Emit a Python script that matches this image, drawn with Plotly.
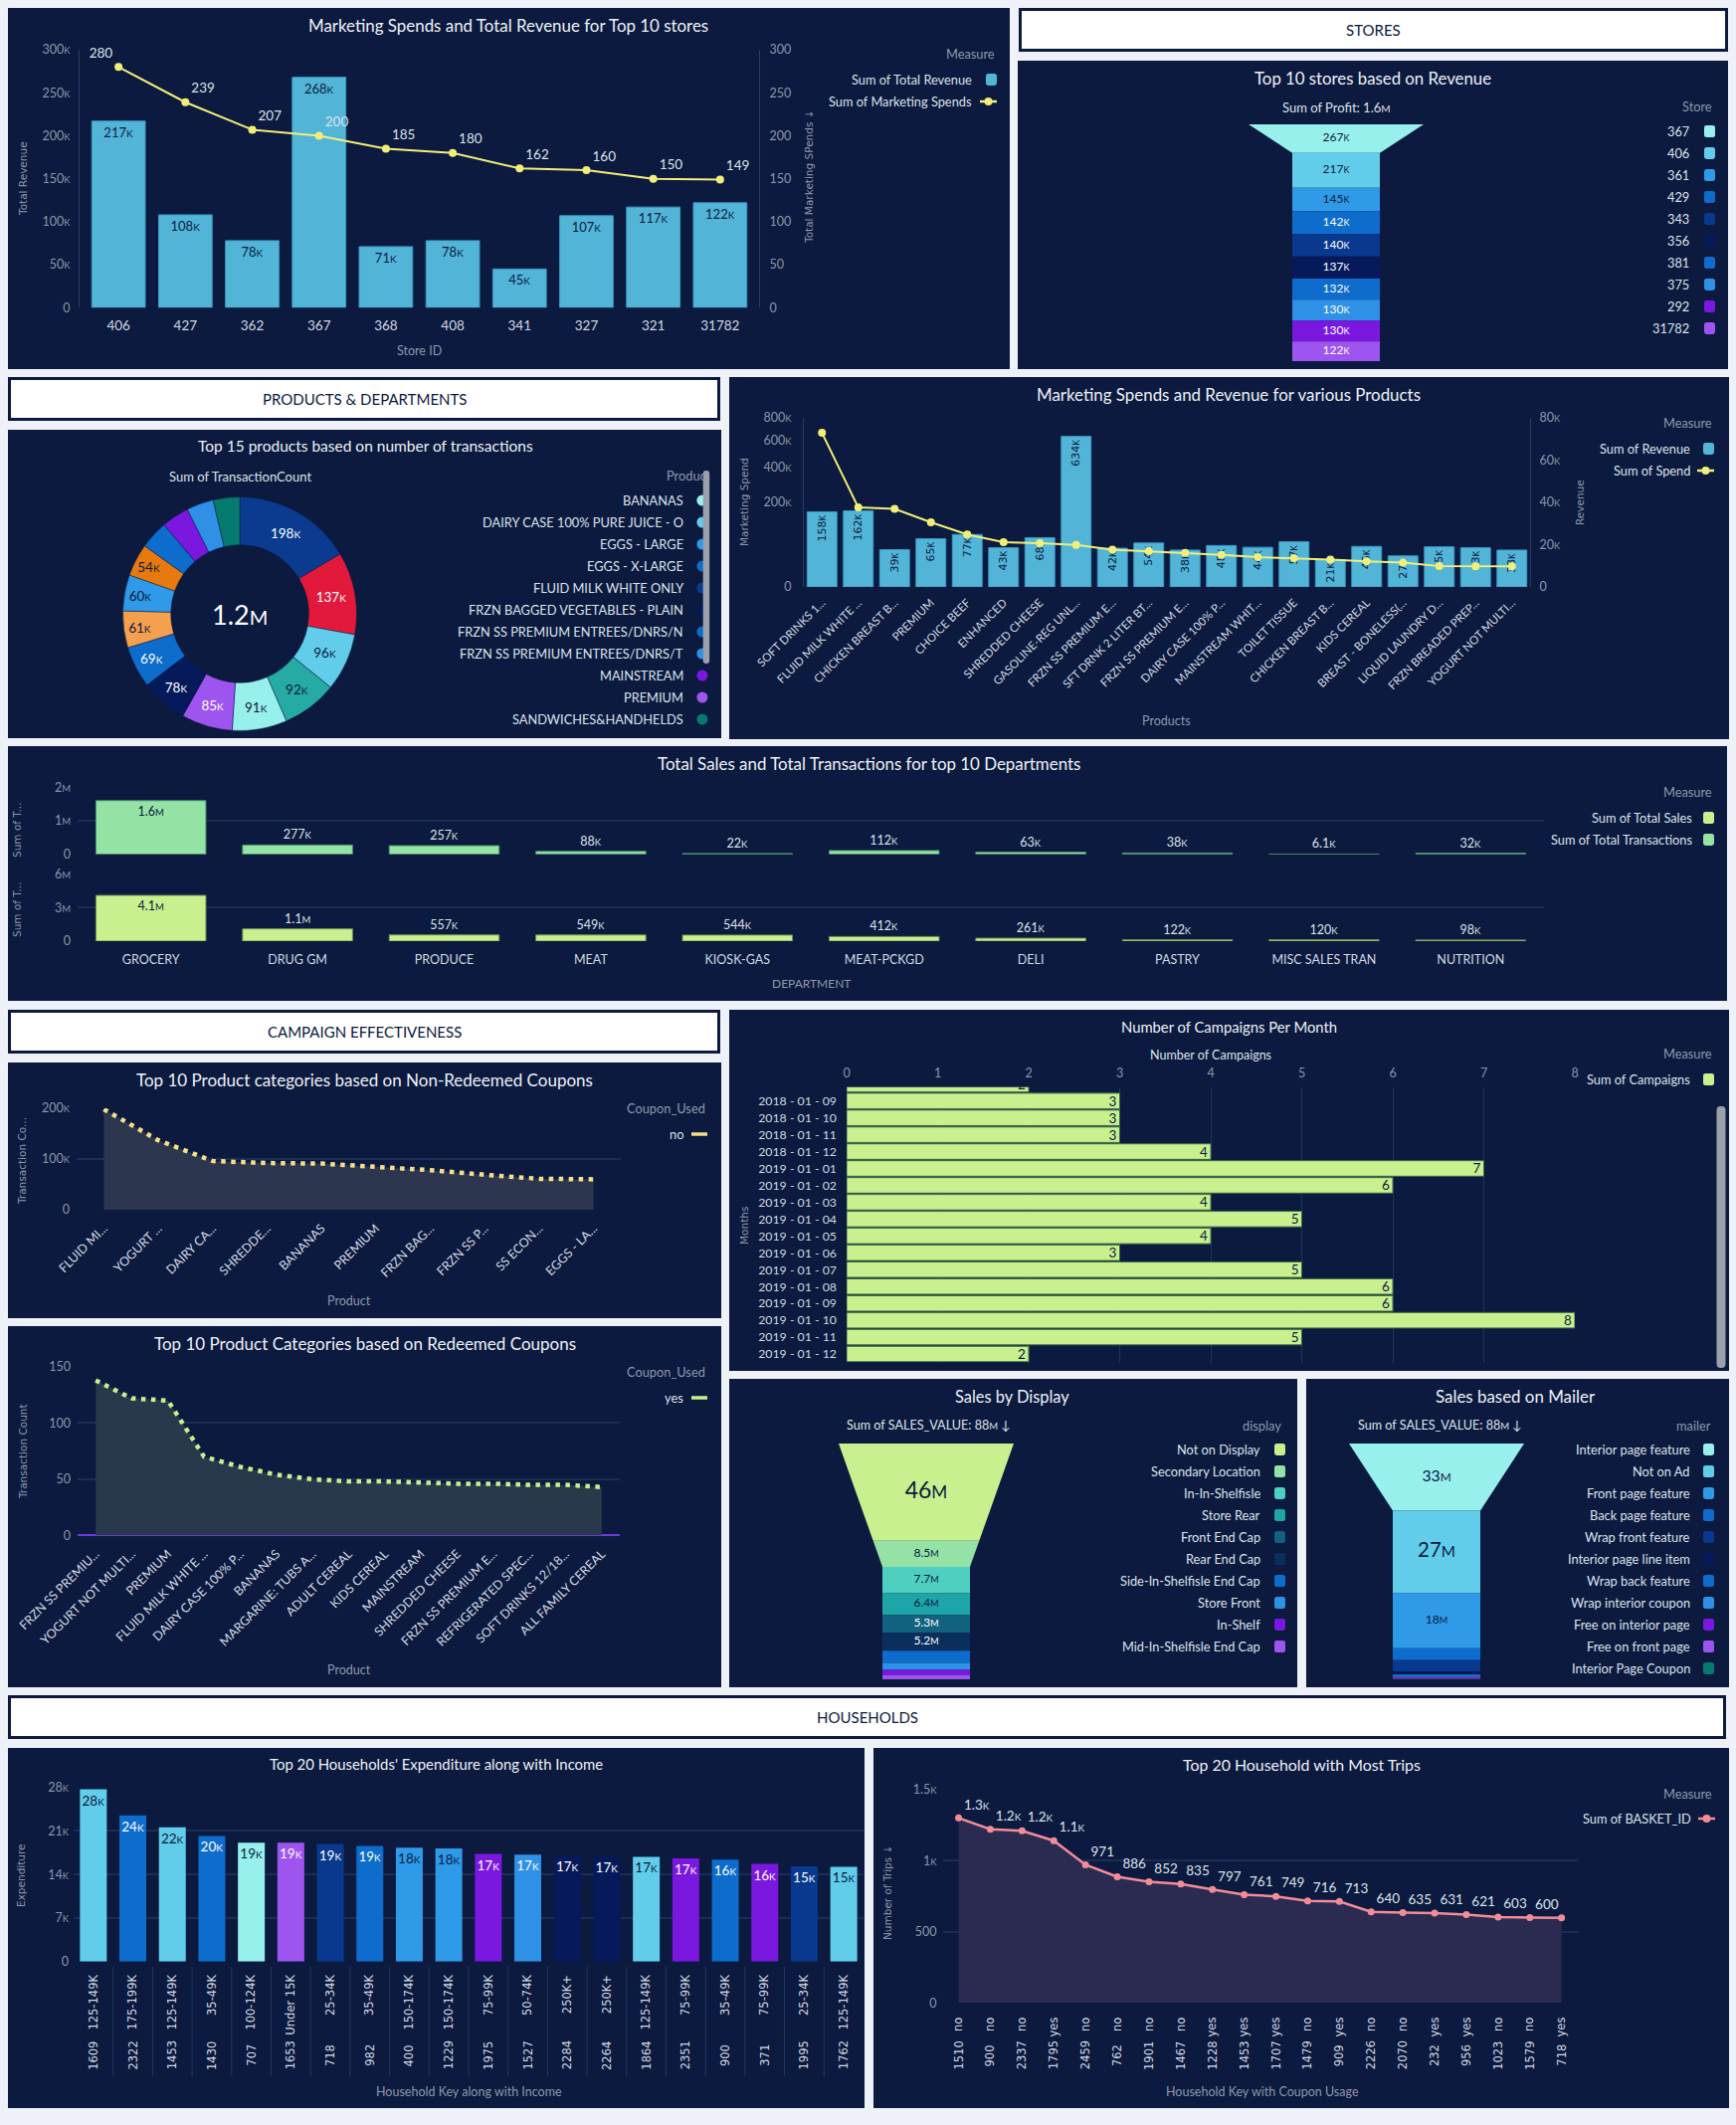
import math
import plotly.graph_objects as go

# ======================= DATA =======================
store_ids = ["406", "427", "362", "367", "368", "408", "341", "327", "321", "31782"]
store_total_revenue = [217000, 108000, 78000, 268000, 71000, 78000, 45000, 107000, 117000, 122000]
store_marketing_spends = [280, 239, 207, 200, 185, 180, 162, 160, 150, 149]

profit_stores = ["367", "406", "361", "429", "343", "356", "381", "375", "292", "31782"]
profit_values = [267000, 217000, 145000, 142000, 140000, 137000, 132000, 130000, 130000, 122000]

donut_products = ["FLUID MILK WHITE ONLY", "YOGURT NOT MULTI-PACKS", "DAIRY CASE 100% PURE JUICE - O",
                  "SHREDDED CHEESE", "BANANAS", "PREMIUM", "FRZN BAGGED VEGETABLES - PLAIN",
                  "FRZN SS PREMIUM ENTREES/DNRS/N", "SS ECONOMY ENTREES/DINNERS ALL", "EGGS - LARGE",
                  "SOFT DRINKS 12/18&15PK CAN CAR", "EGGS - X-LARGE", "MAINSTREAM",
                  "FRZN SS PREMIUM ENTREES/DNRS/T", "SANDWICHES&HANDHELDS"]
donut_counts = [198000, 137000, 96000, 92000, 91000, 85000, 78000, 69000, 61000, 60000, 54000,
                47000, 46000, 45000, 44000]

prod_names = ["SOFT DRINKS 1...", "FLUID MILK WHITE ...", "CHICKEN BREAST B...", "PREMIUM", "CHOICE BEEF",
              "ENHANCED", "SHREDDED CHEESE", "GASOLINE-REG UNL...", "FRZN SS PREMIUM E...",
              "SFT DRNK 2 LITER BT...", "FRZN SS PREMIUM E...", "DAIRY CASE 100% P...", "MAINSTREAM WHIT...",
              "TOILET TISSUE", "CHICKEN BREAST B...", "KIDS CEREAL", "BREAST - BONELESS(...",
              "LIQUID LAUNDRY D...", "FRZN BREADED PREP...", "YOGURT NOT MULTI..."]
prod_revenue = [158000, 162000, 39000, 65000, 77000, 43000, 68000, 634000, 42000, 54000, 38000, 48000,
                44000, 57000, 21000, 46000, 27000, 45000, 43000, 38000]
prod_spend = [72900, 37600, 36900, 30600, 24800, 21200, 20700, 19900, 17700, 16900, 16100, 15200,
              14100, 13600, 12900, 12100, 11500, 9900, 9800, 9800]

departments = ["GROCERY", "DRUG GM", "PRODUCE", "MEAT", "KIOSK-GAS", "MEAT-PCKGD", "DELI", "PASTRY",
               "MISC SALES TRAN", "NUTRITION"]
dept_transactions = [1600000, 277000, 257000, 88000, 22000, 112000, 63000, 38000, 6100, 32000]
dept_sales = [4100000, 1100000, 557000, 549000, 544000, 412000, 261000, 122000, 120000, 98000]

nonred_products = ["FLUID MI...", "YOGURT ...", "DAIRY CA...", "SHREDDE...", "BANANAS", "PREMIUM",
                   "FRZN BAG...", "FRZN SS P...", "SS ECON...", "EGGS - LA..."]
nonred_counts = [198000, 137000, 96000, 92000, 91000, 85000, 78000, 69000, 61000, 60000]

red_products = ["FRZN SS PREMIU...", "YOGURT NOT MULTI...", "PREMIUM", "FLUID MILK WHITE ...",
                "DAIRY CASE 100% P...", "BANANAS", "MARGARINE: TUBS A...", "ADULT CEREAL", "KIDS CEREAL",
                "MAINSTREAM", "SHREDDED CHEESE", "FRZN SS PREMIUM E...", "REFRIGERATED SPEC...",
                "SOFT DRINKS 12/18...", "ALL FAMILY CEREAL"]
red_counts = [138, 122, 120, 70, 61, 54, 50, 48, 48, 47, 46, 46, 45, 45, 43]

months = ["2018 - 01 - 08", "2018 - 01 - 09", "2018 - 01 - 10", "2018 - 01 - 11", "2018 - 01 - 12",
          "2019 - 01 - 01", "2019 - 01 - 02", "2019 - 01 - 03", "2019 - 01 - 04", "2019 - 01 - 05",
          "2019 - 01 - 06", "2019 - 01 - 07", "2019 - 01 - 08", "2019 - 01 - 09", "2019 - 01 - 10",
          "2019 - 01 - 11", "2019 - 01 - 12"]
campaigns = [2, 3, 3, 3, 4, 7, 6, 4, 5, 4, 3, 5, 6, 6, 8, 5, 2]

display_types = ["Not on Display", "Secondary Location", "In-In-Shelfisle", "Store Rear", "Front End Cap",
                 "Rear End Cap", "Side-In-Shelfisle End Cap", "Store Front", "In-Shelf",
                 "Mid-In-Shelfisle End Cap"]
display_sales = [46e6, 8.5e6, 7.7e6, 6.4e6, 5.3e6, 5.2e6, 3.6e6, 2.1e6, 1.5e6, 1.25e6]

mailer_types = ["Interior page feature", "Not on Ad", "Front page feature", "Back page feature",
                "Wrap front feature", "Interior page line item", "Wrap back feature", "Wrap interior coupon",
                "Free on interior page", "Free on front page", "Interior Page Coupon"]
mailer_sales = [33e6, 27e6, 18e6, 3.9e6, 3.7e6, 1.0e6, 0.5e6, 0.4e6, 0.3e6, 0.25e6, 0.15e6]

hh_keys = ["1609", "2322", "1453", "1430", "707", "1653", "718", "982", "400", "1229", "1975", "1527",
           "2284", "2264", "1864", "2351", "900", "371", "1995", "1762"]
hh_income = ["125-149K", "175-199K", "125-149K", "35-49K", "100-124K", "Under 15K", "25-34K", "35-49K",
             "150-174K", "150-174K", "75-99K", "50-74K", "250K+", "250K+", "125-149K", "75-99K", "35-49K",
             "75-99K", "25-34K", "125-149K"]
hh_expenditure = [27700, 23500, 21600, 20200, 19100, 19100, 18900, 18600, 18300, 18200, 17300, 17200,
                  17000, 16850, 16850, 16600, 16400, 15700, 15300, 15250]

trip_keys = ["1510", "900", "2337", "1795", "2459", "762", "1901", "1467", "1228", "1453", "1707", "1479",
             "909", "2226", "2070", "232", "956", "1023", "1579", "718"]
trip_coupon = ["no", "no", "no", "yes", "no", "no", "no", "no", "yes", "yes", "yes", "no", "yes", "no",
               "no", "yes", "yes", "no", "no", "yes"]
trip_counts = [1300, 1220, 1210, 1140, 971, 886, 852, 835, 797, 761, 749, 716, 713, 640, 635, 631, 621,
               603, 600, 598]

# ======================= STYLE =======================
W, H = 1745, 2136
PAGE = "#eef2f8"
PANEL = "#0b1a3e"
DARK = "#0b1a3e"
AXLINE = "#2b3b61"
GRID = "#1d2c53"
TICK_C = "#8d96ab"
CAT_C = "#d3d8e2"
TITLE_C = "#eef1f6"
AXT_C = "#8f98ad"
LEG_T = "#8f98ad"
LEG_C = "#dde2ea"
FONT = "Lato"
WIDE = "DejaVu Sans"
YELLOW = "#f3ee7a"
BAR_BLUE = "#52b5d8"
LIME = "#c9f08f"
MINT = "#94e3a5"
PINK = "#f28d98"
DOT_Y = "#f6df8a"
LEG_SIZE = 12.8
TICK_SIZE = 12.5

PAL = {"aqua": "#97f0ec", "sky": "#62cdea", "blue": "#2e9ae8", "blue2": "#0d6ccc", "navy": "#08398f",
       "dnavy": "#06195a", "blue3": "#2e91e6", "violet": "#7a18e0", "lviolet": "#9e55f0", "teal": "#057a6e"}
store_colors = [PAL[k] for k in ["aqua", "sky", "blue", "blue2", "navy", "dnavy", "blue2", "blue3",
                                 "violet", "lviolet"]]
donut_color_map = {
    "FLUID MILK WHITE ONLY": "#0a3b8e", "YOGURT NOT MULTI-PACKS": "#e3193b",
    "DAIRY CASE 100% PURE JUICE - O": PAL["sky"], "SHREDDED CHEESE": "#26aba4", "BANANAS": PAL["aqua"],
    "PREMIUM": PAL["lviolet"], "FRZN BAGGED VEGETABLES - PLAIN": PAL["dnavy"],
    "FRZN SS PREMIUM ENTREES/DNRS/N": PAL["blue2"], "SS ECONOMY ENTREES/DINNERS ALL": "#f5a04f",
    "EGGS - LARGE": PAL["blue"], "SOFT DRINKS 12/18&15PK CAN CAR": "#e8790f", "EGGS - X-LARGE": PAL["blue2"],
    "MAINSTREAM": PAL["violet"], "FRZN SS PREMIUM ENTREES/DNRS/T": PAL["blue3"],
    "SANDWICHES&HANDHELDS": PAL["teal"]}
display_colors = ["#c9f08f", "#94e2a6", "#4ecfbf", "#1ea5a8", "#11617f", "#0b2f5d", PAL["blue2"],
                  PAL["blue3"], PAL["violet"], PAL["lviolet"]]
mailer_colors = [PAL["aqua"], PAL["sky"], PAL["blue"], PAL["blue2"], PAL["navy"], PAL["dnavy"],
                 PAL["blue2"], PAL["blue3"], PAL["violet"], PAL["lviolet"], PAL["teal"]]
income_color_map = {"125-149K": PAL["sky"], "175-199K": PAL["blue2"], "35-49K": PAL["blue2"],
                    "100-124K": PAL["aqua"], "Under 15K": PAL["lviolet"], "25-34K": PAL["navy"],
                    "150-174K": PAL["blue"], "75-99K": PAL["violet"], "50-74K": PAL["blue3"],
                    "250K+": PAL["dnavy"]}


def X(px):
    return px / W


def Y(py):
    return 1 - py / H


def dx(a, b):
    return [X(a), X(b)]


def dy(top, bottom):
    return [Y(bottom), Y(top)]


def abbr(v, usize=None):
    for div, u in ((1e6, "M"), (1e3, "K")):
        if v >= div:
            q = v / div
            s = f"{q:.1f}" if q < 10 else f"{q:.0f}"
            if s.endswith(".0"):
                s = s[:-2]
            if usize:
                return f"{s}<span style='font-size:{usize}px'>{u}</span>"
            return s + u
    return f"{v:g}"


def lum(c):
    vals = []
    for i in (1, 3, 5):
        x = int(c[i:i + 2], 16) / 255
        vals.append(x / 12.92 if x <= 0.03928 else ((x + 0.055) / 1.055) ** 2.4)
    return 0.2126 * vals[0] + 0.7152 * vals[1] + 0.0722 * vals[2]


def txt_on(c):
    return DARK if lum(c) > 0.28 else "#ffffff"


fig = go.Figure()
shapes = []
annotations = []


def ann(text, x, y, size=12, color=LEG_C, family=FONT, xanchor="center", yanchor="middle", angle=0,
        xref="paper"):
    annotations.append(dict(text=text, x=(X(x) if xref == "paper" else x), y=Y(y), xref=xref, yref="paper",
                            showarrow=False, font=dict(size=size, color=color, family=family),
                            xanchor=xanchor, yanchor=yanchor, textangle=angle))


def P(x, y):
    return f"{X(x):.6f},{Y(y):.6f}"


def rrect(x0, y0, x1, y1, r, color, layer="above", line=None):
    path = (f"M {P(x0 + r, y0)} L {P(x1 - r, y0)} Q {P(x1, y0)} {P(x1, y0 + r)} L {P(x1, y1 - r)} "
            f"Q {P(x1, y1)} {P(x1 - r, y1)} L {P(x0 + r, y1)} Q {P(x0, y1)} {P(x0, y1 - r)} "
            f"L {P(x0, y0 + r)} Q {P(x0, y0)} {P(x0 + r, y0)} Z")
    shapes.append(dict(type="path", path=path, xref="paper", yref="paper", fillcolor=color,
                       line=line or dict(width=0), layer=layer))


def circle(cx, cy, r, color):
    shapes.append(dict(type="circle", xref="paper", yref="paper", x0=X(cx - r), x1=X(cx + r),
                       y0=Y(cy + r), y1=Y(cy - r), fillcolor=color, line=dict(width=0), layer="above"))


def hline(x0, x1, y, color, width):
    shapes.append(dict(type="line", xref="paper", yref="paper", x0=X(x0), x1=X(x1), y0=Y(y), y1=Y(y),
                       line=dict(color=color, width=width), layer="above"))


def swatch(kind, color, right, y):
    if kind == "square":
        rrect(right - 11, y - 6, right, y + 6, 2.5, color)
    elif kind == "circle":
        circle(right - 5.5, y, 5.5, color)
    elif kind == "line":
        hline(right - 16, right, y, color, 3.5)
    elif kind == "linedot":
        hline(right - 17, right, y, color, 2.5)
        circle(right - 8.5, y, 4, color)


def legend(title, title_right, title_y, items, text_right, sw_right, y0, step=22):
    if title:
        ann(title, title_right, title_y, size=LEG_SIZE, color=LEG_T, xanchor="right")
    for i, (label, color, kind) in enumerate(items):
        y = y0 + i * step
        ann(label, text_right, y, size=LEG_SIZE, color=LEG_C, xanchor="right")
        swatch(kind, color, sw_right, y)


def base_ax(**kw):
    d = dict(showgrid=False, zeroline=False, showline=False, ticks="", fixedrange=True, automargin=False,
             tickfont=dict(family=FONT, size=TICK_SIZE, color=TICK_C))
    d.update(kw)
    return d


def hidden_ax(**kw):
    d = dict(visible=False, fixedrange=True, automargin=False)
    d.update(kw)
    return d


axes = {}

# ---------------- panels & headers ----------------
panels = [(8, 8, 1015, 371), (1023, 61, 1737, 371), (8, 432, 725, 742), (733, 379, 1738, 743),
          (8, 750, 1736, 1006), (8, 1068, 725, 1325), (8, 1333, 725, 1696), (733, 1015, 1738, 1378),
          (733, 1386, 1304, 1696), (1313, 1386, 1738, 1696), (8, 1757, 869, 2119), (878, 1757, 1738, 2119)]
for (a, b, c, d) in panels:
    shapes.append(dict(type="rect", xref="paper", yref="paper", x0=X(a), x1=X(c), y0=Y(d), y1=Y(b),
                       fillcolor=PANEL, line=dict(width=0), layer="below"))
headers = [((1024, 8, 1737, 52), "STORES"), ((8, 379, 724, 423), "PRODUCTS & DEPARTMENTS"),
           ((8, 1015, 724, 1059), "CAMPAIGN EFFECTIVENESS"), ((8, 1704, 1735, 1748), "HOUSEHOLDS")]
for (a, b, c, d), t in headers:
    shapes.append(dict(type="rect", xref="paper", yref="paper", x0=X(a + 1.5), x1=X(c - 1.5),
                       y0=Y(d - 1.5), y1=Y(b + 1.5), fillcolor="#ffffff",
                       line=dict(width=3, color=DARK), layer="below"))
    ann(t, (a + c) / 2, (b + d) / 2, size=15, color=DARK)

# ---------------- A: stores revenue + marketing ----------------
fig.add_trace(go.Bar(x=store_ids, y=store_total_revenue, xaxis="x", yaxis="y", width=0.8,
                     marker=dict(color=BAR_BLUE, line=dict(color="#3b9bc3", width=1)),
                     text=[abbr(v, 10) for v in store_total_revenue], textposition="inside",
                     insidetextanchor="end", textangle=0, constraintext="none",
                     textfont=dict(family=FONT, size=13, color=DARK), hoverinfo="skip"))
fig.add_trace(go.Scatter(x=store_ids, y=store_marketing_spends, xaxis="x", yaxis="y2",
                         mode="lines+markers+text", line=dict(color=YELLOW, width=2),
                         marker=dict(size=8, color=YELLOW),
                         text=[str(v) for v in store_marketing_spends],
                         textposition=["top left"] + ["top right"] * 9,
                         textfont=dict(family=FONT, size=13.5, color=LEG_C), cliponaxis=False,
                         hoverinfo="skip"))
rev_ticks = [0, 50000, 100000, 150000, 200000, 250000, 300000]
axes["xaxis"] = base_ax(domain=dx(80, 763), anchor="y", type="category",
                        tickfont=dict(family=FONT, size=13.5, color=CAT_C), ticklabelstandoff=8)
axes["yaxis"] = base_ax(domain=dy(50, 309.3), anchor="x", range=[0, 300000], tickmode="array",
                        tickvals=rev_ticks, ticktext=[abbr(v, 9.5) for v in rev_ticks], showline=True,
                        linecolor=AXLINE, ticklabelstandoff=6)
spend_ticks = [0, 50, 100, 150, 200, 250, 300]
axes["yaxis2"] = base_ax(overlaying="y", side="right", anchor="x", range=[0, 300], tickmode="array",
                         tickvals=spend_ticks, ticktext=[str(v) for v in spend_ticks], showline=True,
                         linecolor=AXLINE, ticklabelstandoff=7)
ann("Marketing Spends and Total Revenue for Top 10 stores", 511, 25, size=16.9, color=TITLE_C)
ann("Total Revenue", 23, 180, size=10.5, color=AXT_C, family=WIDE, angle=-90)
ann("Total Marketing SPends ↓", 813, 178, size=10.5, color=AXT_C, family=WIDE, angle=-90)
ann("Store ID", 421, 353, size=12.5, color=AXT_C)
legend("Measure", 1002, 54, [("Sum of Total Revenue", BAR_BLUE, "square"),
                             ("Sum of Marketing Spends", YELLOW, "linedot")], 979, 1002, 80)


# ---------------- funnel helper ----------------
def funnel(values, colors, n_top, xa, ya, px_h):
    total = sum(values)
    vt = sum(values[:n_top])
    ht = vt / 1.5
    hu = ht + total - vt

    def depth(a):
        if a <= vt:
            return ht * (2 - math.sqrt(max(0.0, 4 - 2 * a / ht)))
        return ht + (a - vt)

    def hw(y):
        return 1 - y / (2 * ht) if y < ht else 0.5

    cum = 0
    mids, texts, sizes, tcols = [], [], [], []
    for v, c in zip(values, colors):
        y0, y1 = depth(cum), depth(cum + v)
        cum += v
        fig.add_trace(go.Scatter(x=[-hw(y0), hw(y0), hw(y1), -hw(y1), -hw(y0)], y=[y0, y0, y1, y1, y0],
                                 xaxis=xa, yaxis=ya, mode="lines", fill="toself", fillcolor=c,
                                 line=dict(width=0), hoverinfo="skip"))
        hpx = (y1 - y0) * px_h / hu
        size = min(23, 12 + max(0, hpx - 55) * 0.3)
        mids.append((y0 + y1) / 2)
        texts.append(abbr(v, round(size * 0.75, 1)) if hpx >= 15 else "")
        sizes.append(size)
        tcols.append(txt_on(c))
    fig.add_trace(go.Scatter(x=[0] * len(values), y=mids, xaxis=xa, yaxis=ya, mode="text", text=texts,
                             textfont=dict(family=FONT, size=sizes, color=tcols), hoverinfo="skip"))
    return hu


# ---------------- B: stores funnel ----------------
hu_b = funnel(profit_values, store_colors, 1, "x3", "y3", 238)
axes["xaxis3"] = hidden_ax(domain=dx(1255, 1431), range=[-1, 1], anchor="y3")
axes["yaxis3"] = hidden_ax(domain=dy(125, 363), range=[hu_b, 0], anchor="x3")
ann("Top 10 stores based on Revenue", 1380, 78, size=16.8, color=TITLE_C)
ann("Sum of Profit: " + abbr(sum(profit_values), 10), 1343, 108, size=13, color=LEG_C)
legend("Store", 1723, 107, [(s, c, "square") for s, c in zip(profit_stores, store_colors)], 1700, 1724, 132)

# ---------------- C: donut ----------------
donut_colors = [donut_color_map[p] for p in donut_products]
fig.add_trace(go.Pie(labels=donut_products, values=donut_counts, hole=0.59, sort=False,
                     direction="clockwise", rotation=0,
                     marker=dict(colors=donut_colors, line=dict(color=PANEL, width=0.5)),
                     text=[abbr(v, 10) if v / sum(donut_counts) > 0.042 else "" for v in donut_counts],
                     textinfo="text", textposition="inside", insidetextorientation="horizontal",
                     textfont=dict(family=FONT, size=13.5, color=[txt_on(c) for c in donut_colors]),
                     domain=dict(x=dx(123.5, 358.5), y=dy(499.5, 734.5)), hoverinfo="skip",
                     showlegend=False))
ann(abbr(sum(donut_counts), 20), 241, 617, size=27, color="#ffffff")
ann("Top 15 products based on number of transactions", 367, 448, size=15.5, color=TITLE_C)
ann("Sum of TransactionCount", 241, 479, size=13, color=LEG_C)
ann("Produc", 668, 478, size=LEG_SIZE, color=LEG_T, xanchor="left")
legend(None, 0, 0, [(p, donut_color_map[p], "circle") for p in sorted(donut_products)[:11]],
       689, 711.4, 503)
rrect(706.7, 473, 713.2, 667, 3, "#9aa1ab")

# ---------------- D: products ----------------
px_ = list(range(len(prod_names)))
fig.add_trace(go.Bar(x=px_, y=[math.sqrt(v) for v in prod_revenue], xaxis="x4", yaxis="y4", width=0.82,
                     marker=dict(color=BAR_BLUE, line=dict(color="#3b9bc3", width=1)),
                     text=[abbr(v, 8.5) for v in prod_revenue], textposition="auto",
                     insidetextanchor="end", textangle=-90,
                     insidetextfont=dict(family=WIDE, size=11, color=DARK),
                     outsidetextfont=dict(family=WIDE, size=11, color=LEG_C),
                     cliponaxis=False, hoverinfo="skip"))
fig.add_trace(go.Scatter(x=px_, y=prod_spend, xaxis="x4", yaxis="y5", mode="lines+markers",
                         line=dict(color=YELLOW, width=2), marker=dict(size=8, color=YELLOW),
                         hoverinfo="skip"))
ms_ticks = [0, 200000, 400000, 600000, 800000]
rv_ticks = [0, 20000, 40000, 60000, 80000]
axes["xaxis4"] = base_ax(domain=dx(808, 1538), anchor="y4", range=[-0.5, len(prod_names) - 0.5],
                         tickmode="array", tickvals=px_, ticktext=prod_names, tickangle=-45,
                         tickfont=dict(family=FONT, size=11.5, color=CAT_C), ticklabelstandoff=6)
axes["yaxis4"] = base_ax(domain=dy(420, 590), anchor="x4", range=[0, math.sqrt(800000)], tickmode="array",
                         tickvals=[math.sqrt(v) for v in ms_ticks], ticktext=[abbr(v, 9.5) for v in ms_ticks],
                         showline=True, linecolor=AXLINE, ticklabelstandoff=9)
axes["yaxis5"] = base_ax(overlaying="y4", side="right", anchor="x4", range=[0, 80000], tickmode="array",
                         tickvals=rv_ticks, ticktext=[abbr(v, 9.5) for v in rv_ticks], showline=True,
                         linecolor=AXLINE, ticklabelstandoff=6)
ann("Marketing Spends and Revenue for various Products", 1235, 396, size=16.9, color=TITLE_C)
ann("Marketing Spend", 748, 505, size=10.5, color=AXT_C, family=WIDE, angle=-90)
ann("Revenue", 1588, 505, size=10.5, color=AXT_C, family=WIDE, angle=-90)
ann("Products", 1172, 724, size=12.5, color=AXT_C)
legend("Measure", 1723, 425, [("Sum of Revenue", BAR_BLUE, "square"), ("Sum of Spend", YELLOW, "linedot")],
       1701, 1723, 451)

# ---------------- E: departments ----------------
fig.add_trace(go.Bar(x=departments, y=dept_transactions, xaxis="x5", yaxis="y6", width=0.75,
                     marker=dict(color=MINT, line=dict(color="#4d8f6d", width=1)),
                     text=[abbr(v, 9.5) for v in dept_transactions], textposition="auto", textangle=0,
                     insidetextanchor="end", insidetextfont=dict(family=FONT, size=12.5, color=DARK),
                     outsidetextfont=dict(family=FONT, size=12.5, color=LEG_C), cliponaxis=False,
                     hoverinfo="skip"))
fig.add_trace(go.Bar(x=departments, y=dept_sales, xaxis="x6", yaxis="y7", width=0.75,
                     marker=dict(color=LIME, line=dict(color="#6f8f4f", width=1)),
                     text=[abbr(v, 9.5) for v in dept_sales], textposition="auto", textangle=0,
                     insidetextanchor="end", insidetextfont=dict(family=FONT, size=12.5, color=DARK),
                     outsidetextfont=dict(family=FONT, size=12.5, color=LEG_C), cliponaxis=False,
                     hoverinfo="skip"))
t_ticks = [0, 1000000, 2000000]
s_ticks = [0, 3000000, 6000000]
axes["xaxis5"] = base_ax(domain=dx(78, 1552), anchor="y6", type="category", showticklabels=False)
axes["yaxis6"] = base_ax(domain=dy(791.3, 858.7), anchor="x5", range=[0, 2000000], tickmode="array",
                         tickvals=t_ticks, ticktext=[abbr(v, 9.5) for v in t_ticks], showgrid=True,
                         gridcolor=GRID, gridwidth=2, ticklabelstandoff=6)
axes["xaxis6"] = base_ax(domain=dx(78, 1552), anchor="y7", type="category",
                         tickfont=dict(family=FONT, size=12.5, color=CAT_C), ticklabelstandoff=9)
axes["yaxis7"] = base_ax(domain=dy(878.7, 946), anchor="x6", range=[0, 6000000], tickmode="array",
                         tickvals=s_ticks, ticktext=[abbr(v, 9.5) for v in s_ticks], showgrid=True,
                         gridcolor=GRID, gridwidth=2, ticklabelstandoff=6)
ann("Total Sales and Total Transactions for top 10 Departments", 873, 767, size=16.9, color=TITLE_C)
ann("Sum of T...", 17, 834, size=10.5, color=AXT_C, family=WIDE, angle=-90)
ann("Sum of T...", 17, 914, size=10.5, color=AXT_C, family=WIDE, angle=-90)
ann("DEPARTMENT", 815, 988, size=12, color=AXT_C)
legend("Measure", 1723, 796, [("Sum of Total Sales", LIME, "square"),
                              ("Sum of Total Transactions", MINT, "square")], 1703, 1723, 822)

# ---------------- F: non-redeemed ----------------
fig.add_trace(go.Scatter(x=nonred_products, y=nonred_counts, xaxis="x7", yaxis="y8", mode="lines",
                         line=dict(color=DOT_Y, width=4.5, dash="4.5px,5.5px"), fill="tozeroy",
                         fillcolor="#2c374f", hoverinfo="skip"))
nr_ticks = [0, 100000, 200000]
axes["xaxis7"] = base_ax(domain=dx(77, 624), anchor="y8", type="category", tickangle=-45,
                         range=[-0.5, len(nonred_products) - 0.5],
                         tickfont=dict(family=FONT, size=12.5, color=CAT_C), ticklabelstandoff=8)
axes["yaxis8"] = base_ax(domain=dy(1114, 1216), anchor="x7", range=[0, 200000], tickmode="array",
                         tickvals=nr_ticks, ticktext=[abbr(v, 9.5) for v in nr_ticks], showgrid=True,
                         gridcolor=GRID, gridwidth=2, ticklabelstandoff=6)
ann("Top 10 Product categories based on Non-Redeemed Coupons", 366, 1085, size=17, color=TITLE_C)
ann("Transaction Co...", 22, 1167, size=10.5, color=AXT_C, family=WIDE, angle=-90)
ann("Product", 351, 1307, size=12.5, color=AXT_C)
legend("Coupon_Used", 711, 1114, [("no", DOT_Y, "line")], 689, 711, 1140)

# ---------------- G: redeemed ----------------
fig.add_trace(go.Scatter(x=red_products, y=red_counts, xaxis="x8", yaxis="y9", mode="lines",
                         line=dict(color=LIME, width=4.5, dash="4.5px,5.5px"), fill="tozeroy",
                         fillcolor="#27394b", hoverinfo="skip"))
r_ticks = [0, 50, 100, 150]
axes["xaxis8"] = base_ax(domain=dx(78, 623), anchor="y9", type="category", tickangle=-45,
                         range=[-0.5, len(red_products) - 0.5],
                         tickfont=dict(family=FONT, size=12.5, color=CAT_C), ticklabelstandoff=8)
axes["yaxis9"] = base_ax(domain=dy(1374, 1543.3), anchor="x8", range=[0, 150], tickmode="array",
                         tickvals=r_ticks, ticktext=[str(v) for v in r_ticks], showgrid=True,
                         gridcolor=GRID, gridwidth=2, zeroline=True, zerolinecolor="#6b3be0",
                         zerolinewidth=2, ticklabelstandoff=6)
ann("Top 10 Product Categories based on Redeemed Coupons", 367, 1350, size=17, color=TITLE_C)
ann("Transaction Count", 23, 1459, size=10.5, color=AXT_C, family=WIDE, angle=-90)
ann("Product", 351, 1678, size=12.5, color=AXT_C)
legend("Coupon_Used", 711, 1379, [("yes", LIME, "line")], 689, 711, 1405)

# ---------------- H: campaigns per month ----------------
fig.add_trace(go.Bar(x=campaigns, y=months, orientation="h", xaxis="x9", yaxis="y10", width=0.92,
                     marker=dict(color=LIME, line=dict(color="#3d6b45", width=1)),
                     text=[str(v) for v in campaigns], textposition="inside", insidetextanchor="end",
                     textangle=0, constraintext="none", textfont=dict(family=FONT, size=13.5, color=DARK),
                     hoverinfo="skip"))
axes["xaxis9"] = base_ax(domain=dx(851, 1583), anchor="y10", side="top", range=[0, 8], tickmode="linear",
                         tick0=0, dtick=1, showgrid=True, gridcolor="#23325a", ticklabelstandoff=6)
axes["yaxis10"] = base_ax(domain=dy(1092.7, 1369.5), anchor="x9", type="category", categoryorder="array",
                          categoryarray=months, range=[len(months) - 0.5, 0.176],
                          tickfont=dict(family=FONT, size=12.3, color=CAT_C), ticklabelstandoff=9)
ann("Number of Campaigns Per Month", 1235, 1032, size=14.8, color=TITLE_C)
ann("Number of Campaigns", 1217, 1060, size=12.5, color=LEG_C)
ann("Months", 748, 1232, size=10.5, color=AXT_C, family=WIDE, angle=-90)
legend("Measure", 1723, 1059, [("Sum of Campaigns", LIME, "square")], 1701, 1723, 1085)
rrect(1725.5, 1112, 1734.5, 1375, 4, "#9aa1ab")

# ---------------- I: display funnel ----------------
hu_i = funnel(display_sales, display_colors, 2, "x10", "y11", 237)
axes["xaxis10"] = hidden_ax(domain=dx(843, 1019), range=[-1, 1], anchor="y11")
axes["yaxis11"] = hidden_ax(domain=dy(1451, 1688), range=[hu_i, 0], anchor="x10")
ann("Sales by Display", 1017, 1403, size=16.4, color=TITLE_C)
ann("Sum of SALES_VALUE: " + abbr(sum(display_sales), 9.5) + " ↓", 934, 1433, size=12.6, color=LEG_C)
legend("display", 1290, 1433, [(t, c, "square") for t, c in zip(display_types, display_colors)],
       1269, 1292, 1457)

# ---------------- J: mailer funnel ----------------
hu_j = funnel(mailer_sales, mailer_colors, 1, "x11", "y12", 237)
axes["xaxis11"] = hidden_ax(domain=dx(1356, 1532), range=[-1, 1], anchor="y12")
axes["yaxis12"] = hidden_ax(domain=dy(1451, 1688), range=[hu_j, 0], anchor="x11")
ann("Sales based on Mailer", 1523, 1403, size=16.9, color=TITLE_C)
ann("Sum of SALES_VALUE: " + abbr(sum(mailer_sales), 9.5) + " ↓", 1447, 1433, size=12.6, color=LEG_C)
legend("mailer", 1722, 1433, [(t, c, "square") for t, c in zip(mailer_types, mailer_colors)],
       1701, 1723, 1457)

# ---------------- K: household expenditure ----------------
hh_colors = [income_color_map[i] for i in hh_income]
fig.add_trace(go.Bar(x=hh_keys, y=hh_expenditure, xaxis="x12", yaxis="y13", width=0.68,
                     marker=dict(color=hh_colors, line=dict(width=0)),
                     text=[abbr(v, 10) for v in hh_expenditure], textposition="inside",
                     insidetextanchor="end", textangle=0, constraintext="none",
                     textfont=dict(family=FONT, size=13.5, color=[txt_on(c) for c in hh_colors]),
                     hoverinfo="skip"))
e_ticks = [0, 7000, 14000, 21000, 28000]
axes["xaxis12"] = base_ax(domain=dx(74, 868), anchor="y13", type="category", categoryorder="array",
                          categoryarray=hh_keys, range=[-0.5, len(hh_keys) - 0.5], tickmode="array",
                          tickvals=hh_keys, ticktext=hh_income, tickangle=-90,
                          tickfont=dict(family=WIDE, size=11.5, color=CAT_C), ticklabelstandoff=10)
axes["yaxis13"] = base_ax(domain=dy(1796.7, 1971.7), anchor="x12", range=[0, 28000], tickmode="array",
                          tickvals=e_ticks, ticktext=[abbr(v, 9.5) for v in e_ticks], showgrid=True,
                          gridcolor=GRID, gridwidth=2, ticklabelstandoff=4)
for i, k in enumerate(hh_keys):
    ann(k, i, 2066, size=11.5, color=CAT_C, family=WIDE, angle=-90, xref="x12")
for i in range(len(hh_keys) - 1):
    shapes.append(dict(type="line", xref="x12", yref="paper", x0=i + 0.5, x1=i + 0.5, y0=Y(2087),
                       y1=Y(1977), line=dict(color="#26355d", width=1), layer="above"))
ann("Top 20 Households' Expenditure along with Income", 438, 1773, size=14.9, color=TITLE_C)
ann("Expenditure", 21, 1885, size=10.5, color=AXT_C, family=WIDE, angle=-90)
ann("Household Key along with Income", 471, 2102, size=12.5, color=AXT_C)

# ---------------- L: household trips ----------------
fig.add_trace(go.Scatter(x=trip_keys, y=trip_counts, xaxis="x13", yaxis="y14", mode="lines+markers+text",
                         line=dict(color=PINK, width=2.5), marker=dict(size=7, color=PINK),
                         fill="tozeroy", fillcolor="#2b2a50",
                         text=[abbr(v, 10) for v in trip_counts[:-1]] + [""], textposition="top right",
                         textfont=dict(family=FONT, size=13.5, color=LEG_C), cliponaxis=False,
                         hoverinfo="skip"))
tr_ticks = [0, 500, 1000, 1500]
axes["xaxis13"] = base_ax(domain=dx(947.6, 1585.6), anchor="y14", type="category", categoryorder="array",
                          categoryarray=trip_keys, range=[-0.5, len(trip_keys) - 0.5], tickmode="array",
                          tickvals=trip_keys, ticktext=trip_coupon, tickangle=-90,
                          tickfont=dict(family=WIDE, size=11.5, color=CAT_C), ticklabelstandoff=11)
axes["yaxis14"] = base_ax(domain=dy(1798.7, 2013.3), anchor="x13", range=[0, 1500], tickmode="array",
                          tickvals=tr_ticks, ticktext=[abbr(v, 9.5) for v in tr_ticks], showgrid=True,
                          gridcolor=GRID, gridwidth=2, ticklabelstandoff=5)
for i, k in enumerate(trip_keys):
    ann(k, i, 2066, size=11.5, color=CAT_C, family=WIDE, angle=-90, xref="x13")
ann("Top 20 Household with Most Trips", 1308, 1773, size=15.9, color=TITLE_C)
ann("Number of Trips ↓", 892, 1903, size=10.5, color=AXT_C, family=WIDE, angle=-90)
ann("Household Key with Coupon Usage", 1269, 2102, size=12.5, color=AXT_C)
legend("Measure", 1723, 1803, [("Sum of BASKET_ID", PINK, "linedot")], 1702, 1724, 1828)

# ---------------- layout ----------------
fig.update_layout(width=W, height=H, margin=dict(l=0, r=0, t=0, b=0, autoexpand=False), paper_bgcolor=PAGE,
                  plot_bgcolor="rgba(0,0,0,0)", showlegend=False, barmode="overlay",
                  font=dict(family=FONT, color=LEG_C), shapes=shapes, annotations=annotations,
                  hovermode=False, **axes)
fig.write_html("out.html", config={"displayModeBar": False})
